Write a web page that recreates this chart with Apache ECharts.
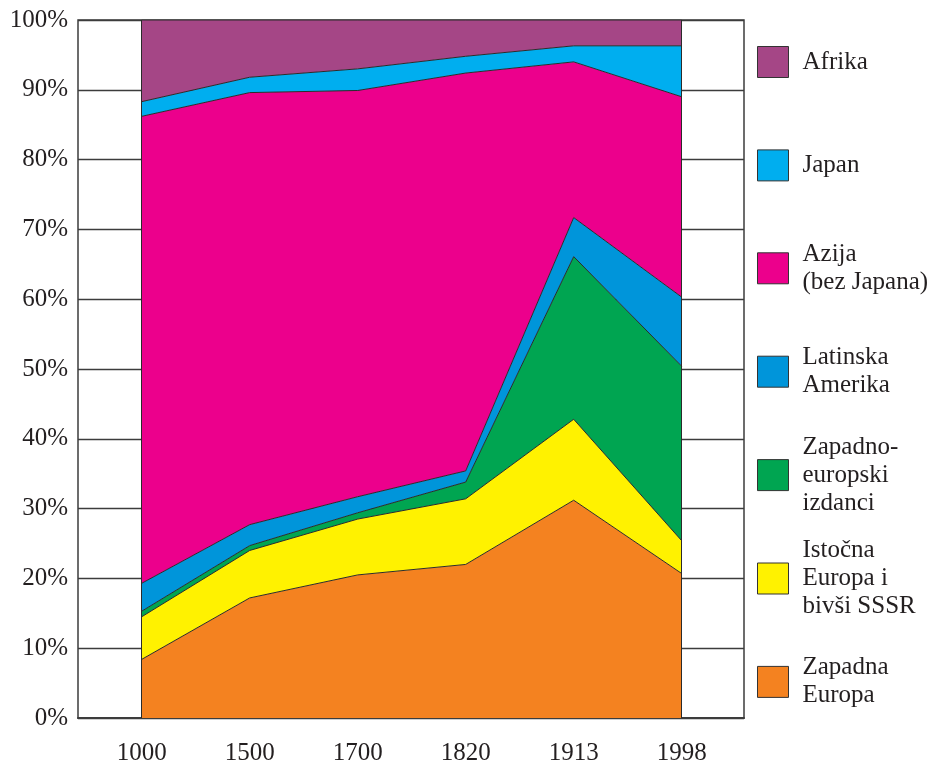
<!DOCTYPE html>
<html lang="hr">
<head>
<meta charset="UTF-8">
<title>Udio u svjetskom BDP-u</title>
<script src="https://cdn.jsdelivr.net/npm/echarts@6/dist/echarts.min.js"></script>
<style>
html,body{margin:0;padding:0;background:#fff}
#chartBox{width:938px;height:760px}
</style>
</head>
<body>
<div id="chartBox"></div>
<script>
// godine na osi x
const years = ['1000', '1500', '1700', '1820', '1913', '1998'];

// udjeli u %, odozdo prema gore
const zapadnaEuropa   = [8.4, 17.2, 20.5, 22.0, 31.2, 20.7];
const istocnaEuropa   = [6.1, 6.8, 8.0, 9.4, 11.6, 4.7];
const izdanci         = [0.8, 0.7, 0.9, 2.4, 23.3, 25.0];
const latinskaAmerika = [4.0, 3.0, 2.3, 1.6, 5.6, 9.9];
const azija           = [66.9, 61.9, 58.2, 57.0, 22.3, 28.7];
const japan           = [2.1, 2.2, 3.1, 2.4, 2.3, 7.3];
const afrika          = [11.7, 8.2, 7.0, 5.2, 3.7, 3.7];

const FONT = 'Liberation Serif';
const TEXT = '#231f20';
const EDGE = '#2b2b2b';
const FRAME = '#3c3c3c';

// redoslijed slaganja (dno -> vrh)
const layers = [
    {name: 'Zapadna\nEuropa', data: zapadnaEuropa, color: '#f48220'},
    {name: 'Istočna\nEuropa i\nbivši SSSR', data: istocnaEuropa, color: '#fff200'},
    {name: 'Zapadno-\neuropski\nizdanci', data: izdanci, color: '#00a551'},
    {name: 'Latinska\nAmerika', data: latinskaAmerika, color: '#0095da'},
    {name: 'Azija\n(bez Japana)', data: azija, color: '#ec008c'},
    {name: 'Japan', data: japan, color: '#00aeef'},
    {name: 'Afrika', data: afrika, color: '#a54686'},
];

function buildSeries(){
    return layers.map((l, idx) => {
        const s = {
            type: 'line',
            name: l.name,
            xAxisIndex: 1,
            yAxisIndex: 1,
            stack: 'udio',
            symbol: 'none',
            color: l.color,
            lineStyle: {color: EDGE, width: 1},
            areaStyle: {color: l.color, opacity: 1},
            data: l.data,
        };
        if (idx === layers.length - 1) {
            // rubovi lijevo i desno
            s.markLine = {
                silent: true,
                symbol: ['none', 'none'],
                label: {show: false},
                lineStyle: {color: EDGE, width: 1, type: 'solid'},
                data: [{xAxis: years[0]}, {xAxis: years[years.length - 1]}],
            };
        }
        return s;
    });
}

// legenda: svaka stavka posebno, da razmak bude jednak
function buildLegends(){
    const order = layers.slice().reverse();
    return order.map((l, i) => {
        const lines = l.name.split('\n').length;
        const center = 61.5 + 103.4 * i;
        return {
            data: [l.name],
            orient: 'vertical',
            left: 757,
            top: center - Math.max(15.5, lines * 14),
            padding: 0,
            itemGap: 0,
            itemWidth: 31,
            itemHeight: 31,
            icon: 'rect',
            selectedMode: false,
            itemStyle: {borderColor: '#333', borderWidth: 1},
            textStyle: {
                fontFamily: FONT, fontSize: 25, lineHeight: 28, color: TEXT,
                padding: [0, 0, 0, 9],
            },
        };
    });
}

const option = {
    animation: false,
    backgroundColor: '#fff',
    grid: [
        // okvir s mrežom
        {left: 78, top: 20, width: 666, height: 698, containLabel: false, outerBoundsMode: 'none',
         show: true, borderColor: FRAME, borderWidth: 1.5},
        // područje podataka
        {left: 141.7, top: 20, width: 540, height: 698, containLabel: false, outerBoundsMode: 'none'},
    ],
    xAxis: [
        {
            gridIndex: 0, type: 'value', min: 0, max: 1,
            splitLine: {show: false}, axisTick: {show: false}, axisLabel: {show: false},
            axisLine: {show: true, lineStyle: {color: FRAME, width: 2}},
        },
        {
            gridIndex: 1, type: 'category', data: years, boundaryGap: false,
            axisLine: {show: false}, axisTick: {show: false}, splitLine: {show: false},
            axisLabel: {fontFamily: FONT, fontSize: 25, color: TEXT, margin: 23},
        },
    ],
    yAxis: [
        {
            gridIndex: 0, type: 'value', min: 0, max: 100, interval: 10,
            axisLine: {show: false}, axisTick: {show: false},
            splitLine: {lineStyle: {color: FRAME, width: 1.3}},
            axisLabel: {formatter: '{value}%', fontFamily: FONT, fontSize: 25, color: TEXT, margin: 10},
        },
        {
            gridIndex: 1, type: 'value', min: 0, max: 100,
            show: false, splitLine: {show: false},
        },
    ],
    legend: buildLegends(),
    series: buildSeries(),
};

const chartObj = echarts.init(document.getElementById('chartBox'));
chartObj.setOption(option);
</script>
</body>
</html>
